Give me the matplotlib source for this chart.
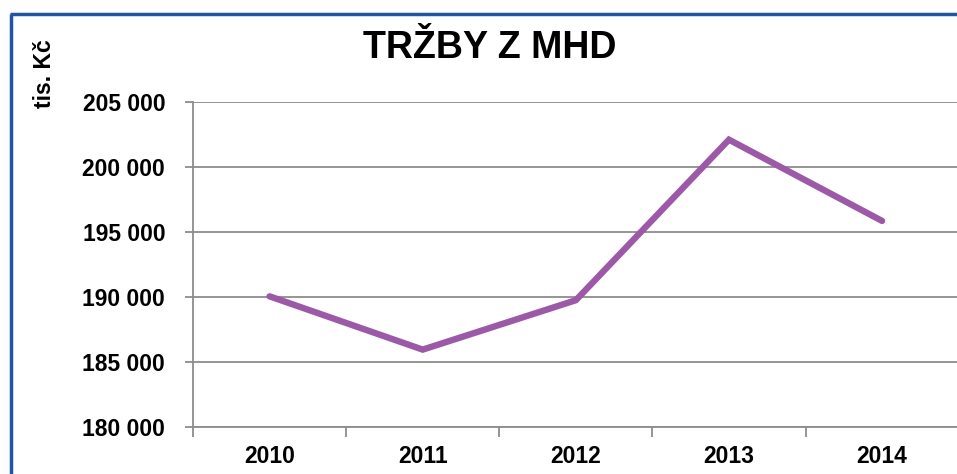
"""
    Tržby z MHD 2010-2014 (tis. Kč)
"""
import numpy as np
import matplotlib.pyplot as plt
from matplotlib.ticker import FuncFormatter, FixedLocator
from matplotlib.lines import Line2D
plt.rcParams['font.family'] = ['Liberation Sans', 'DejaVu Sans']

# data
years = ['2010', '2011', '2012', '2013', '2014']
trzby = [190050, 185950, 189750, 202100, 195850]
y_ticks = [180000, 185000, 190000, 195000, 200000, 205000]

fig = plt.figure(figsize=(9.57, 4.74), dpi=100)
ax = fig.add_axes([0.2017, 0.0992, 0.80, 0.6857])

x = np.arange(len(years))
ax.plot(x, trzby, color='#9B59A8', lw=4.6, solid_capstyle='round', solid_joinstyle='miter', zorder=3)

ax.set_xlim(-0.5, len(years) - 0.5)
ax.set_ylim(y_ticks[0], y_ticks[-1])
ax.set_yticks(y_ticks)
ax.yaxis.set_major_formatter(FuncFormatter(lambda v, p: f'{int(v):,}'.replace(',', ' ')))
ax.set_xticks(x)
ax.set_xticklabels(years)
ax.xaxis.set_minor_locator(FixedLocator(np.arange(-0.5, len(years), 1.0)))

ax.grid(axis='y', color='#8c8c8c', lw=1.3, zorder=1)
for s in ['top', 'right']:
    ax.spines[s].set_visible(False)
for s in ['left', 'bottom']:
    ax.spines[s].set_color('#8c8c8c')
    ax.spines[s].set_linewidth(1.3)

ax.tick_params(axis='y', length=6, width=1.3, color='#8c8c8c', pad=14, labelsize=16.5)
ax.tick_params(axis='x', which='major', length=0, pad=13, labelsize=16.5)
ax.tick_params(axis='x', which='minor', length=7, width=1.3, color='#8c8c8c')
for lab in ax.get_xticklabels() + ax.get_yticklabels():
    lab.set_fontweight('bold')

fig.text(0.512, 0.898, 'TRŽBY Z MHD', ha='center', va='center', fontsize=27, fontweight='bold')
fig.text(0.046, 0.845, 'tis. Kč', ha='center', va='center', rotation=90, fontsize=16.5, fontweight='bold')

# modrý rámeček
fig.add_artist(Line2D([0.0115, 0.0115], [0.0, 0.971], color='#1F55A5', lw=2.5,
                      solid_capstyle='butt', transform=fig.transFigure))
fig.add_artist(Line2D([0.0102, 1.0], [0.971, 0.971], color='#1F55A5', lw=2.5,
                      solid_capstyle='butt', transform=fig.transFigure))

fig.savefig('out.png', dpi=100)
